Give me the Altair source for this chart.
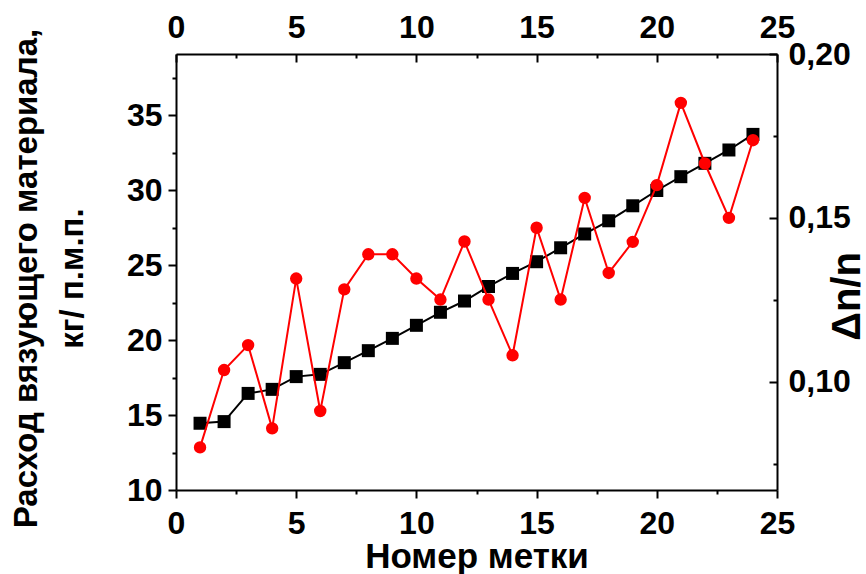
import altair as alt
import pandas as pd

# Mark numbers along the rod
marks = list(range(1, 25))
# Binder consumption, kg per linear metre (left axis)
consumption = [14.45, 14.56, 16.44, 16.71, 17.56, 17.71, 18.49, 19.29, 20.11, 20.98,
               21.85, 22.60, 23.57, 24.44, 25.22, 26.15, 27.07, 27.95, 28.95, 29.97,
               30.89, 31.78, 32.67, 33.71]
# Relative variation dn/n (right axis)
dn_n = [0.0800, 0.1036, 0.1112, 0.0858, 0.1315, 0.0911, 0.1282, 0.1389, 0.1389, 0.1315,
        0.1251, 0.1428, 0.1251, 0.1081, 0.1470, 0.1251, 0.1561, 0.1332, 0.1427, 0.1600,
        0.1851, 0.1666, 0.1500, 0.1737]

x_major = [0, 5, 10, 15, 20, 25]
x_minor = [2.5, 7.5, 12.5, 17.5, 22.5]
left_major = [10, 15, 20, 25, 30, 35]
left_minor = [12.5, 17.5, 22.5, 27.5, 32.5, 37.5]
right_major = [0.10, 0.15, 0.20]
right_minor = [0.075, 0.125, 0.175]

df = pd.DataFrame({"mark": marks, "consumption": consumption, "dn": dn_n})

FONT = "Liberation Sans"
X_SCALE = alt.Scale(domain=[0, 25], nice=False, zero=False)
LEFT_SCALE = alt.Scale(domain=[10, 39.07], nice=False, zero=False)
RIGHT_SCALE = alt.Scale(domain=[0.067, 0.2], nice=False, zero=False)

common = dict(
    grid=False,
    domainColor="black",
    domainWidth=2,
    tickColor="black",
    tickWidth=2,
    labelFont=FONT,
    labelFontWeight="bold",
    labelFontSize=32,
    labelColor="black",
    labelFlush=False,
    labelOverlap=False,
    labelBound=False,
    titleFont=FONT,
    titleFontWeight="bold",
    titleColor="black",
)

ticks_only = dict(common, labels=False, domain=False, title="")

base = alt.Chart(df)

# Binder consumption: black squares joined by a line (bottom / left axes)
consumption_layer = base.mark_line(
    color="black", strokeWidth=2,
    point=alt.OverlayMarkDef(shape="square", size=169, filled=True, color="black", opacity=1),
).encode(
    x=alt.X("mark:Q", scale=X_SCALE, axis=alt.Axis(
        orient="bottom", values=x_major, tickSize=8, labelPadding=10,
        title="Номер метки", titleFontSize=35, titleY=77, titleBaseline="alphabetic",
        **common)),
    y=alt.Y("consumption:Q", scale=LEFT_SCALE, axis=alt.Axis(
        orient="left", values=left_major, format="d", tickSize=8, labelPadding=6,
        title=["Расход вязующего материала,", "кг/ п.м.п."],
        titleFontSize=33, titleAngle=270, titleX=-140, titleY=224,
        titleAlign="center", titleBaseline="alphabetic", titleLineHeight=46,
        **common)),
)

# dn/n: red circles joined by a line (top / right axes)
dn_layer = base.mark_line(
    color="#ff0000", strokeWidth=2,
    point=alt.OverlayMarkDef(shape="circle", size=154, filled=True, color="#ff0000", opacity=1),
).encode(
    x=alt.X("mark:Q", scale=X_SCALE, axis=alt.Axis(
        orient="top", values=x_major, ticks=False, tickSize=0, labelPadding=10,
        title="", **common)),
    y=alt.Y("dn:Q", scale=RIGHT_SCALE, axis=alt.Axis(
        orient="right", values=right_major, ticks=False, tickSize=0, labelPadding=11,
        labelExpr="replace(format(datum.value, '.2f'), '.', ',')",
        title="Δn/n", titleFontSize=40, titleAngle=270, titleX=82, titleY=242,
        titleAlign="center", titleBaseline="alphabetic",
        **common)),
)

# Minor ticks on bottom / left (outward)
minor_outer = base.mark_point(opacity=0).encode(
    x=alt.X("mark:Q", scale=X_SCALE, axis=alt.Axis(
        orient="bottom", values=x_minor, tickSize=4, **ticks_only)),
    y=alt.Y("consumption:Q", scale=LEFT_SCALE, axis=alt.Axis(
        orient="left", values=left_minor, tickSize=4, **ticks_only)),
)

# Major ticks on top / right (pointing inward)
major_inner = base.mark_point(opacity=0).encode(
    x=alt.X("mark:Q", scale=X_SCALE, axis=alt.Axis(
        orient="top", values=x_major, tickSize=8, offset=-8, **ticks_only)),
    y=alt.Y("dn:Q", scale=RIGHT_SCALE, axis=alt.Axis(
        orient="right", values=right_major, tickSize=8, offset=-8, **ticks_only)),
)

# Minor ticks on top / right (pointing inward)
minor_inner = base.mark_point(opacity=0).encode(
    x=alt.X("mark:Q", scale=X_SCALE, axis=alt.Axis(
        orient="top", values=x_minor, tickSize=4, offset=-4, **ticks_only)),
    y=alt.Y("dn:Q", scale=RIGHT_SCALE, axis=alt.Axis(
        orient="right", values=right_minor, tickSize=4, offset=-4, **ticks_only)),
)

chart = alt.layer(
    minor_outer, major_inner, minor_inner, consumption_layer, dn_layer
).resolve_scale(
    x="shared", y="independent"
).resolve_axis(
    x="independent", y="independent"
).properties(
    width=601,
    height=436,
    autosize=alt.AutoSizeParams(type="none"),
    padding={"left": 176, "top": 54, "right": 89, "bottom": 84},
    background="white",
).configure_view(strokeWidth=0)

chart.save("out.html", embed_options={"renderer": "svg", "actions": False})
